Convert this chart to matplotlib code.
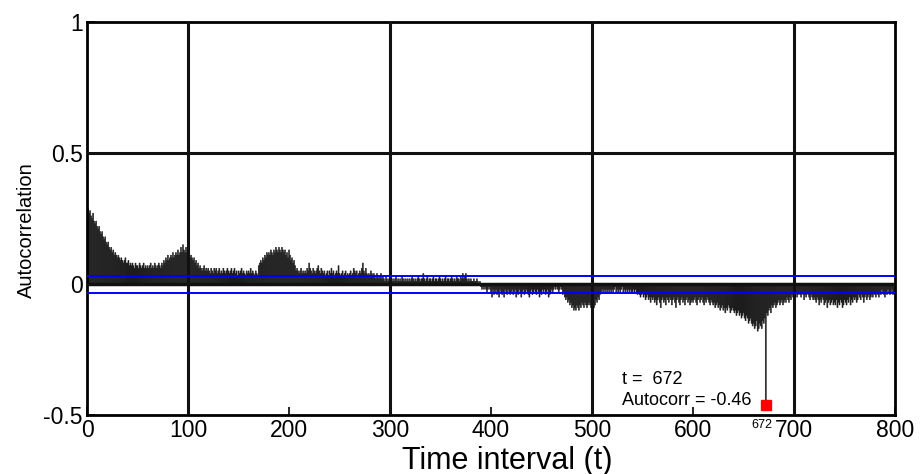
import matplotlib
matplotlib.use("Agg")
import matplotlib.pyplot as plt
import numpy as np

plt.rcParams["font.family"] = ["Liberation Sans", "DejaVu Sans"]

# autocorrelation per lag, in hundredths, 20 lags per row
acf_hundredths = [
    30, 29, 27, 28, 26, 25, 27, 24, 23, 24, 22, 21, 22, 20, 19, 20, 18, 17, 18, 16,
    15, 16, 14, 13, 14, 12, 13, 11, 12, 11, 10, 11, 10, 9, 10, 9, 8, 9, 10, 8,
    8, 9, 7, 8, 7, 8, 7, 6, 8, 7, 7, 6, 8, 7, 6, 7, 8, 6, 7, 6,
    7, 6, 7, 8, 6, 7, 6, 8, 7, 6, 7, 8, 7, 6, 8, 7, 9, 8, 10, 9,
    11, 9, 10, 11, 10, 12, 10, 11, 12, 11, 13, 11, 12, 14, 12, 15, 13, 12, 14, 12,
    11, 12, 10, 11, 10, 9, 10, 8, 9, 7, 8, 6, 7, 6, 5, 6, 7, 5, 6, 5,
    6, 5, 4, 6, 5, 4, 6, 5, 6, 4, 5, 6, 4, 5, 4, 6, 5, 4, 5, 6,
    5, 4, 5, 6, 4, 5, 6, 4, 5, 3, 5, 4, 5, 6, 4, 5, 4, 3, 5, 4,
    5, 4, 6, 4, 5, 4, 3, 5, 4, 3, 7, 8, 9, 8, 10, 9, 11, 10, 12, 11,
    12, 11, 13, 12, 11, 13, 12, 14, 13, 12, 14, 13, 12, 14, 13, 12, 13, 11, 12, 10,
    13, 11, 9, 10, 8, 9, 7, 5, 6, 5, 4, 5, 6, 4, 5, 4, 5, 4, 6, 5,
    8, 6, 5, 4, 6, 5, 4, 5, 6, 7, 5, 4, 6, 5, 4, 5, 3, 4, 5, 3,
    5, 4, 6, 4, 5, 3, 4, 5, 4, 7, 4, 3, 4, 5, 3, 4, 5, 3, 4, 3,
    4, 5, 3, 4, 6, 5, 4, 5, 3, 4, 5, 4, 6, 8, 5, 4, 6, 4, 3, 4,
    3, 5, 4, 3, 4, 3, 2, 4, 3, 2, 3, 4, 2, 3, 2, 1, 3, 2, 1, 2,
    2, 3, 1, 2, 1, 2, 3, 1, 2, 1, 2, 1, 3, 2, 1, 2, 1, 2, 1, 2,
    1, 2, 3, 2, 1, 2, 1, 2, 3, 2, 1, 2, 2, 4, 2, 1, 2, 3, 1, 2,
    2, 1, 2, 3, 1, 2, 2, 1, 2, 3, 2, 1, 2, 1, 2, 3, 1, 2, 2, 1,
    2, 3, 2, 1, 2, 1, 3, 2, 2, 1, 3, 2, 4, 2, 3, 4, 2, 1, 2, 1,
    2, 1, 1, 2, 1, 1, 2, 1, 0, 1, -1, -2, -1, -2, -1, -2, -3, -2, -1, -2,
    -3, -5, -2, -4, -3, -2, -4, -3, -5, -2, -3, -4, -3, -5, -2, -3, -4, -2, -3, -4,
    -3, -2, -4, -3, -2, -5, -3, -4, -2, -3, -5, -3, -2, -4, -3, -2, -3, -4, -5, -3,
    -2, -4, -3, -2, -3, -4, -2, -3, -5, -3, -4, -2, -3, -2, -4, -3, -2, -5, -4, -3,
    -2, -3, -2, -1, -2, -1, -2, -3, -2, -1, -2, -4, -3, -5, -6, -5, -7, -6, -8, -7,
    -9, -8, -10, -9, -10, -8, -9, -10, -8, -9, -7, -8, -9, -7, -8, -9, -8, -7, -8, -9,
    -8, -7, -9, -8, -6, -7, -5, -6, -4, -3, -2, -3, -2, -3, -2, -3, -2, -3, -2, -3,
    -2, -3, -2, -1, -3, -2, -3, -2, -3, -2, -1, -3, -2, -3, -2, -3, -2, -3, -2, -3,
    -3, -2, -3, -2, -3, -4, -3, -4, -5, -4, -3, -5, -4, -6, -5, -4, -6, -5, -7, -5,
    -6, -5, -7, -6, -8, -6, -5, -7, -9, -6, -5, -7, -6, -8, -5, -6, -7, -5, -6, -8,
    -6, -5, -7, -9, -6, -5, -7, -8, -6, -5, -7, -6, -8, -6, -5, -7, -6, -8, -7, -6,
    -7, -6, -5, -7, -8, -6, -5, -7, -6, -5, -7, -8, -6, -7, -5, -6, -7, -8, -6, -7,
    -8, -7, -9, -8, -7, -9, -8, -10, -9, -8, -10, -9, -11, -9, -10, -8, -9, -11, -10, -9,
    -10, -11, -10, -12, -11, -10, -12, -11, -13, -12, -11, -13, -14, -12, -13, -15, -14, -13, -15, -16,
    -15, -17, -16, -14, -18, -17, -15, -16, -17, -14, -15, -13, -46, -11, -12, -10, -9, -11, -8, -9,
    -8, -7, -9, -8, -7, -6, -8, -7, -6, -8, -7, -6, -7, -5, -6, -7, -5, -6, -4, -5,
    -5, -4, -3, -5, -4, -3, -4, -5, -3, -4, -6, -4, -5, -3, -4, -5, -6, -4, -5, -6,
    -5, -6, -7, -5, -6, -8, -6, -7, -5, -6, -8, -7, -6, -9, -7, -6, -8, -7, -6, -8,
    -7, -8, -6, -9, -7, -8, -6, -7, -9, -8, -6, -7, -8, -6, -7, -5, -8, -6, -7, -5,
    -6, -5, -7, -6, -4, -5, -6, -4, -5, -7, -5, -4, -6, -5, -4, -6, -5, -4, -5, -3,
    -4, -5, -3, -4, -5, -3, -4, -2, -3, -4, -5, -3, -4, -2, -3, -4, -3, -2, -4, -3,
]
acf = np.array(acf_hundredths) / 100.0
lags = np.arange(len(acf))

conf_upper = 0.031
conf_lower = -0.034
marked_lag = 672
marked_value = -0.46

xticks = [0, 100, 200, 300, 400, 500, 600, 700, 800]
xgrid = [100, 300, 500, 700]
yticks = [-0.5, 0, 0.5, 1]
ytick_labels = ["-0.5", "0", "0.5", "1"]

fig = plt.figure(figsize=(9.23, 4.74), dpi=100)
ax = fig.add_axes([0.0943, 0.1245, 0.8754, 0.829])

ax.bar(lags, acf, width=1.0, color="#1c1c1c", edgecolor="#1c1c1c",
       linewidth=0.4, snap=False, zorder=2)

for gx in xgrid:
    ax.axvline(gx, color="#111111", lw=2.2, zorder=3)
ax.axhline(0.5, color="#111111", lw=2.2, zorder=3)
ax.axhline(0, color="#111111", lw=2.5, zorder=3)

ax.axhline(conf_upper, color="#0000ff", lw=1.4, zorder=4)
ax.axhline(conf_lower, color="#0000ff", lw=1.4, zorder=4)

ax.plot([marked_lag], [marked_value], marker="s", color="#ff0000",
        markersize=7, linestyle="none", zorder=5)
ax.text(530, -0.363, "t =  672", fontsize=13, ha="left", va="center")
ax.text(530, -0.443, "Autocorr = -0.46", fontsize=13, ha="left", va="center")
ax.text(668, -0.515, "672", fontsize=9, ha="center", va="top")

ax.set_xlim(0, 800)
ax.set_ylim(-0.5, 1)
ax.set_xticks(xticks)
ax.set_xticklabels([str(t) for t in xticks])
ax.set_yticks(yticks)
ax.set_yticklabels(ytick_labels)
ax.tick_params(direction="in", length=6, width=1.2, labelsize=16.5)
ax.tick_params(axis="x", pad=3)
ax.tick_params(axis="y", pad=3)
for side in ax.spines.values():
    side.set_linewidth(2)

ax.set_xlabel("Time interval (t)", fontsize=22)
ax.xaxis.set_label_coords(0.52, -0.078)
ax.set_ylabel("Autocorrelation", fontsize=14.5)
ax.yaxis.set_label_coords(-0.063, 0.47)

fig.savefig("out.png", dpi=100)
